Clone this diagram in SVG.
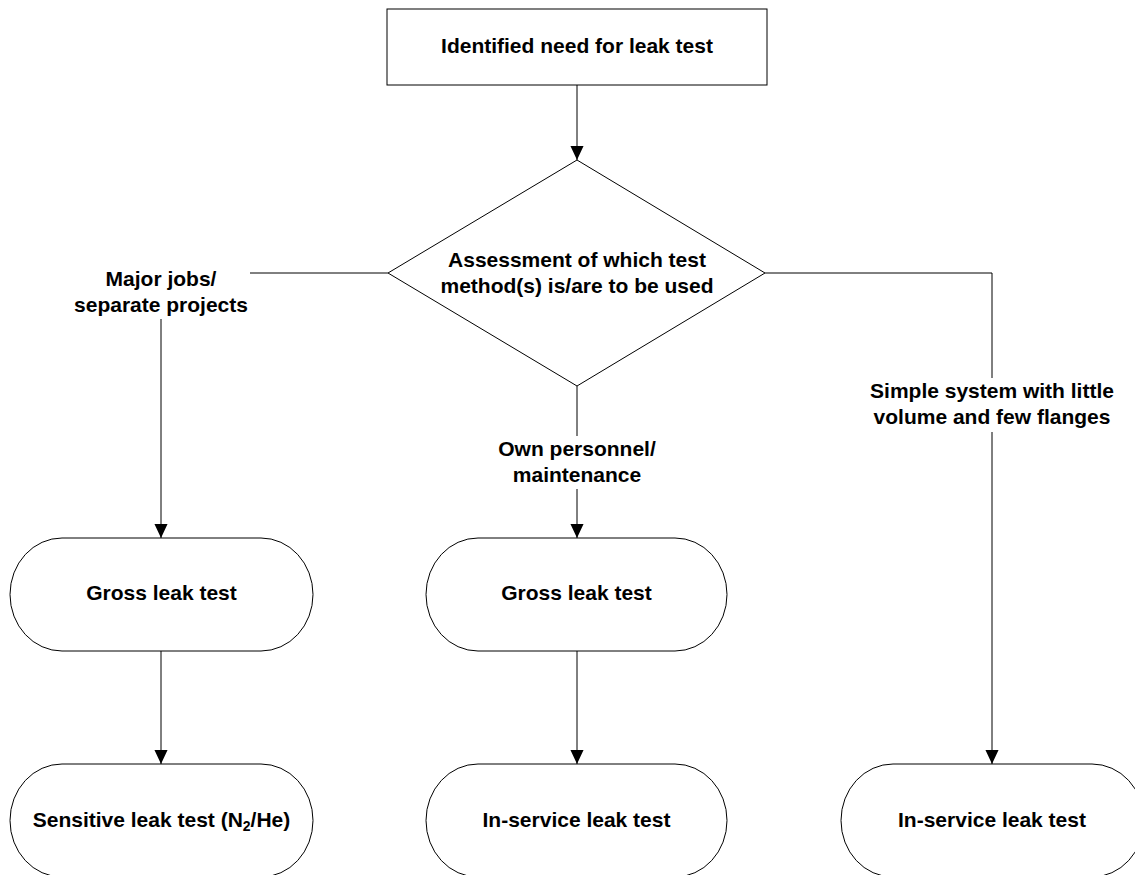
<svg xmlns="http://www.w3.org/2000/svg" width="1135" height="875" viewBox="0 0 1135 875">
<style>
.shape{fill:#fff;stroke:#000;stroke-width:1}
.t{font-family:"Liberation Sans",Arial,sans-serif;font-weight:bold;font-size:21px;fill:#000;text-anchor:middle}
.c{fill:none;stroke:#000;stroke-width:1}
.bg{fill:#fff;stroke:none}
</style>
<defs>
<marker id="arr" markerWidth="14" markerHeight="15" refX="15" refY="7" orient="auto" markerUnits="userSpaceOnUse" viewBox="0 0 15 14">
<path d="M0,0 L15,7 L0,14 Z" fill="#000"/>
</marker>
</defs>
<rect width="1135" height="875" fill="#fff"/>
<g id="connectors">
<path class="c" d="M577,85 L577,160" marker-end="url(#arr)"/>
<path class="c" d="M388,273 L161,273 L161,538" marker-end="url(#arr)"/>
<path class="c" d="M577,386 L577,538" marker-end="url(#arr)"/>
<path class="c" d="M765,273 L992,273 L992,764" marker-end="url(#arr)"/>
<path class="c" d="M161,651 L161,764" marker-end="url(#arr)"/>
<path class="c" d="M577,651 L577,764" marker-end="url(#arr)"/>
<g id="label-major">
<rect class="bg" x="72" y="262" width="178" height="57"/>
<text class="t" x="161" y="286">Major jobs/</text>
<text class="t" x="161" y="312">separate projects</text>
</g>
<g id="label-own">
<rect class="bg" x="495" y="436" width="164" height="53"/>
<text class="t" x="577" y="456">Own personnel/</text>
<text class="t" x="577" y="482">maintenance</text>
</g>
<g id="label-simple">
<rect class="bg" x="866" y="378" width="252" height="54"/>
<text class="t" x="992" y="398">Simple system with little</text>
<text class="t" x="992" y="424">volume and few flanges</text>
</g>
</g>
<g id="start">
<rect class="shape" x="387" y="9" width="380" height="76"/>
<text class="t" x="577" y="53">Identified need for leak test</text>
</g>
<g id="decision">
<polygon class="shape" points="577,160 765,273 577,386 388,273"/>
<text class="t" x="577" y="267">Assessment of which test</text>
<text class="t" x="577" y="293">method(s) is/are to be used</text>
</g>
<g id="gross1">
<rect class="shape" x="10" y="538" width="303" height="113" rx="52" ry="56.5"/>
<text class="t" x="161.5" y="600">Gross leak test</text>
</g>
<g id="gross2">
<rect class="shape" x="426" y="538" width="301" height="113" rx="52" ry="56.5"/>
<text class="t" x="576.5" y="600">Gross leak test</text>
</g>
<g id="sensitive">
<rect class="shape" x="10" y="764" width="303" height="113" rx="52" ry="56.5"/>
<text class="t" x="161.5" y="827">Sensitive leak test (N<tspan font-size="14" dy="4">2</tspan><tspan dy="-4">/He)</tspan></text>
</g>
<g id="inservice1">
<rect class="shape" x="426" y="764" width="301" height="113" rx="52" ry="56.5"/>
<text class="t" x="576.5" y="827">In-service leak test</text>
</g>
<g id="inservice2">
<rect class="shape" x="841" y="764" width="303" height="113" rx="52" ry="56.5"/>
<text class="t" x="992" y="827">In-service leak test</text>
</g>
</svg>
